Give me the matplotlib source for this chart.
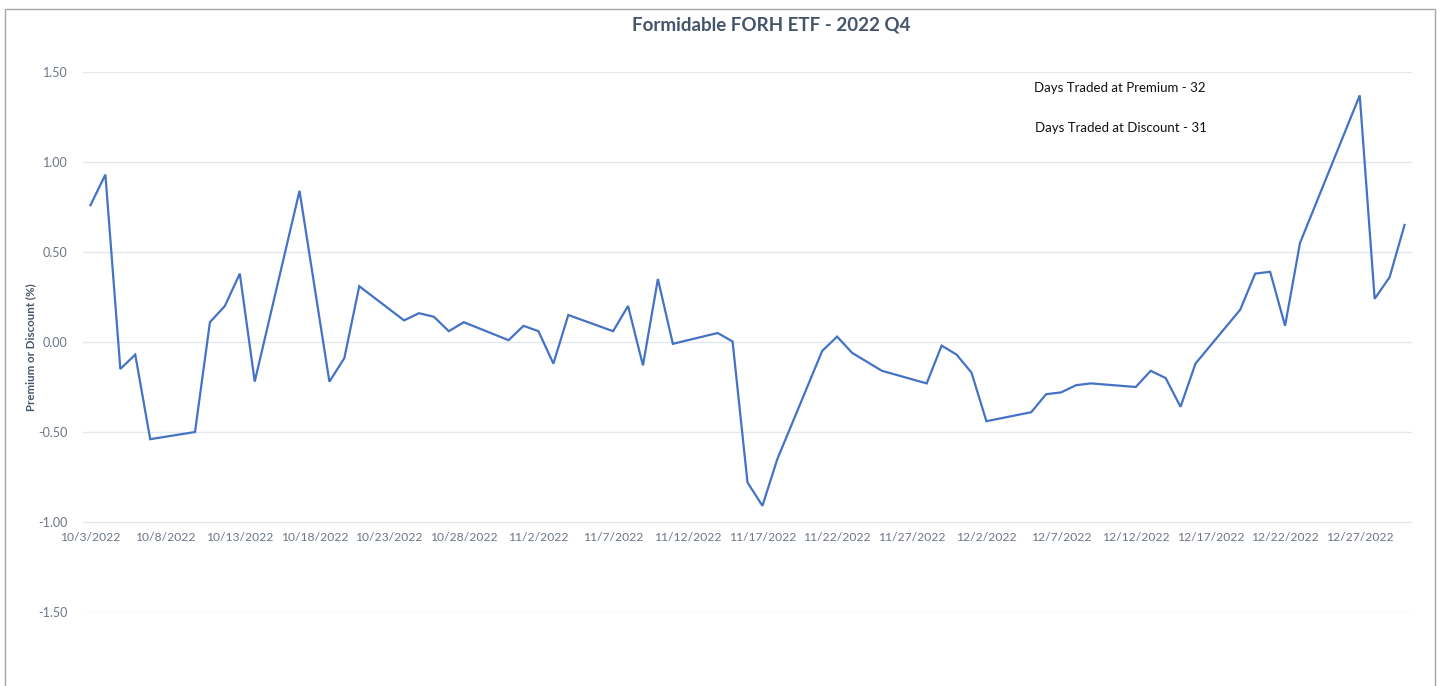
import numpy as np
import pandas as pd
import matplotlib
matplotlib.use("Agg")
import matplotlib.pyplot as plt
import matplotlib.dates as mdates
from matplotlib.patches import Rectangle

plt.rcParams['font.family'] = ['Lato', 'DejaVu Sans']

# trading days in 2022 Q4
dates = ['10/3/2022', '10/4/2022', '10/5/2022', '10/6/2022', '10/7/2022',
         '10/10/2022', '10/11/2022', '10/12/2022', '10/13/2022', '10/14/2022',
         '10/17/2022', '10/18/2022', '10/19/2022', '10/20/2022', '10/21/2022',
         '10/24/2022', '10/25/2022', '10/26/2022', '10/27/2022', '10/28/2022',
         '10/31/2022',
         '11/1/2022', '11/2/2022', '11/3/2022', '11/4/2022',
         '11/7/2022', '11/8/2022', '11/9/2022', '11/10/2022', '11/11/2022',
         '11/14/2022', '11/15/2022', '11/16/2022', '11/17/2022', '11/18/2022',
         '11/21/2022', '11/22/2022', '11/23/2022', '11/25/2022',
         '11/28/2022', '11/29/2022', '11/30/2022',
         '12/1/2022', '12/2/2022',
         '12/5/2022', '12/6/2022', '12/7/2022', '12/8/2022', '12/9/2022',
         '12/12/2022', '12/13/2022', '12/14/2022', '12/15/2022', '12/16/2022',
         '12/19/2022', '12/20/2022', '12/21/2022', '12/22/2022', '12/23/2022',
         '12/27/2022', '12/28/2022', '12/29/2022', '12/30/2022']

# premium / discount in %
prem_disc = [0.76, 0.93, -0.15, -0.07, -0.54,
             -0.50, 0.11, 0.20, 0.38, -0.22,
             0.84, 0.31, -0.22, -0.09, 0.31,
             0.12, 0.16, 0.14, 0.06, 0.11,
             0.01,
             0.09, 0.06, -0.12, 0.15,
             0.06, 0.20, -0.13, 0.35, -0.01,
             0.05, 0.003, -0.78, -0.91, -0.65,
             -0.05, 0.03, -0.06, -0.16,
             -0.23, -0.02, -0.07,
             -0.17, -0.44,
             -0.39, -0.29, -0.28, -0.24, -0.23,
             -0.25, -0.16, -0.20, -0.36, -0.12,
             0.18, 0.38, 0.39, 0.09, 0.55,
             1.37, 0.24, 0.36, 0.65]

y_ticks = [-1.5, -1.0, -0.5, 0.0, 0.5, 1.0, 1.5]
title = 'Formidable FORH ETF - 2022 Q4'
notes = ['Days Traded at Premium - 32', 'Days Traded at Discount - 31']

x = pd.to_datetime(dates, format='%m/%d/%Y')

fig = plt.figure(figsize=(14.39, 6.86), dpi=100)
ax = fig.add_axes([83 / 1439, 1 - 612 / 686, (1412 - 83) / 1439, 540 / 686])

ax.plot(x, prem_disc, color='#4472C4', lw=1.6, solid_joinstyle='miter', zorder=3)

ax.set_ylim(-1.5, 1.5)
ax.set_yticks(y_ticks)
ax.set_yticklabels(['%.2f' % v for v in y_ticks])
ax.grid(axis='y', color='#E3E7EE', lw=1.0)
ax.set_axisbelow(True)

ax.set_xlim(pd.Timestamp('2022-10-02 12:00'), pd.Timestamp('2022-12-30 12:00'))
x_ticks = pd.date_range('2022-10-03', '2022-12-27', freq='5D')
ax.set_xticks(x_ticks)
ax.set_xticklabels([f'{d.month}/{d.day}/{d.year}' for d in x_ticks])

# horizontal axis crosses at -1.00, like the excel chart
for s in ['top', 'right', 'left']:
    ax.spines[s].set_visible(False)
ax.spines['bottom'].set_position(('data', -1.0))
ax.spines['bottom'].set_visible(False)

ax.tick_params(axis='x', length=0, pad=7, labelsize=8.7, labelcolor='#6B7585')
ax.tick_params(axis='y', length=0, pad=11, labelsize=9, labelcolor='#6B7585')

ax.set_ylabel('Premium or Discount (%)', fontsize=8.3, fontweight='bold', color='#44546A')
ax.yaxis.set_label_coords((36 - 83) / 1329, 0.49)

fig.text(771 / 1439, 1 - 25 / 686, title, ha='center', va='center',
         fontsize=13.5, fontweight='bold', color='#44546A')

fig.text(1120 / 1439, 1 - 88 / 686, notes[0], ha='center', va='center', fontsize=9.5, color='#111111')
fig.text(1121 / 1439, 1 - 128 / 686, notes[1], ha='center', va='center', fontsize=9.5, color='#111111')

# chart border
fig.patches.append(Rectangle((5 / 1439, -0.05), (1435 - 5) / 1439, 1.05 - 9 / 686,
                             transform=fig.transFigure, fill=False, ec='#A6A6A6', lw=1.0))

fig.savefig('out.png', dpi=100, facecolor='white')
